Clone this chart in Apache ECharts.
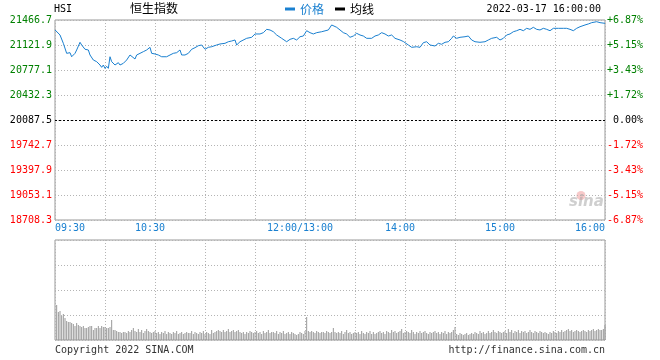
<!DOCTYPE html>
<html><head><meta charset="utf-8">
<script src="https://cdn.jsdelivr.net/npm/echarts@6/dist/echarts.min.js"></script>
<style>html,body{margin:0;padding:0;background:#fff}#c{width:660px;height:360px}</style>
</head><body><div id="c"></div>
<script>
const symbolText = 'HSI';
const indexName = '恒生指数';
const dateText = '2022-03-17 16:00:00';
const legendNames = ['价格', '均线'];
const prevClose = 20087.5;
const stepTenths = 3448; // 344.8 points per grid step, in tenths
const timeLabels = {0:'09:30', 60:'10:30', 150:'12:00/13:00', 210:'14:00', 270:'15:00', 330:'16:00'};
const footerLeft = 'Copyright 2022 SINA.COM';
const footerRight = 'http://finance.sina.com.cn';

// [minutes since 09:30 (lunch removed), price]
const pricePoints = [
[0,21330],[1,21342],[3,21260],[5,21145],[7,21007],[8,20984],[9,21016],[10,20960],[12,21007],[13,21053],
[15,21159],[16,21122],[18,21063],[20,21053],[21,20984],[23,20915],[25,20892],[26,20869],[27,20846],[28,20814],
[29,20846],[30,20800],[31,20828],[32,20800],[33,20960],[34,20892],[35,20915],[36,20846],[38,20878],[39,20846],
[41,20869],[43,20915],[45,20984],[46,20960],[48,20929],[49,20984],[51,21007],[53,21030],[55,21053],[56,21063],
[57,21090],[58,21007],[60,20998],[62,20984],[64,20960],[65,20938],[67,20960],[69,20984],[71,21007],[73,21016],
[75,21053],[76,20984],[78,20984],[80,21007],[82,21063],[84,21085],[86,21112],[88,21122],[89,21098],[90,21063],
[92,21090],[94,21098],[97,21122],[99,21136],[102,21145],[104,21167],[106,21177],[108,21191],[109,21122],[111,21167],
[112,21177],[115,21214],[118,21228],[120,21274],[123,21274],[125,21292],[127,21338],[129,21329],[131,21305],[133,21260],
[136,21214],[139,21167],[141,21200],[143,21214],[145,21191],[147,21236],[149,21246],[151,21319],[153,21292],[155,21274],
[157,21292],[160,21305],[164,21329],[166,21398],[167,21374],[169,21366],[171,21329],[173,21292],[175,21274],[177,21228],
[179,21246],[181,21283],[183,21260],[185,21246],[187,21214],[190,21214],[192,21246],[194,21260],[196,21292],[198,21274],
[200,21246],[202,21260],[204,21214],[207,21191],[209,21170],[212,21122],[214,21090],[217,21098],[219,21090],[221,21154],
[223,21167],[225,21122],[228,21108],[230,21145],[232,21132],[234,21159],[236,21167],[238,21214],[239,21246],[241,21214],
[243,21228],[246,21236],[248,21246],[250,21191],[252,21167],[255,21159],[258,21167],[260,21191],[262,21214],[265,21228],
[267,21191],[269,21214],[271,21260],[273,21274],[275,21305],[277,21319],[279,21338],[281,21319],[283,21352],[285,21338],
[287,21366],[289,21338],[291,21329],[293,21352],[295,21338],[297,21319],[299,21352],[302,21352],[305,21352],[307,21352],
[309,21338],[311,21319],[313,21352],[315,21374],[318,21398],[320,21412],[322,21430],[325,21443],[327,21430],[328,21457],
[330,21421]
];

// per-minute volume (relative units, 100 = panel top), minute 1..330
const volumeValues = [
35,28,29,24,26,22,19,18,18,17,
16,14,17,15,14,13,14,12,12,13,
14,14,10,12,12,14,12,14,13,13,
12,12,13,20,10,10,9,8,8,7,
8,8,7,9,8,10,12,9,8,11,
8,10,7,9,11,9,8,7,8,9,
7,8,6,8,7,9,6,8,7,6,
8,7,9,6,7,8,6,7,8,7,
7,9,6,8,7,6,8,7,9,6,
8,7,6,10,7,8,9,10,9,8,
10,8,9,11,8,9,10,8,9,10,
8,7,8,6,8,7,9,8,7,8,
9,7,8,6,9,7,8,10,7,8,
8,7,9,6,8,7,9,6,7,8,
6,8,7,6,5,6,8,7,6,9,
23,9,8,9,8,7,9,8,7,8,
8,7,9,8,7,8,12,8,7,8,
7,9,6,8,10,7,8,6,7,8,
7,8,6,9,7,6,8,7,9,6,
8,6,7,8,9,7,8,6,9,8,
7,10,8,9,7,8,9,11,7,8,
9,8,7,10,8,6,8,7,9,7,
8,9,7,6,8,7,8,9,7,8,
6,8,7,9,6,8,7,8,10,13,
6,5,7,6,5,6,7,5,6,7,
6,8,7,6,9,7,8,6,7,9,
7,8,10,8,7,9,8,7,8,9,
7,11,8,10,7,9,8,10,7,9,
8,9,7,8,10,8,7,9,8,7,
9,8,7,8,7,6,8,7,9,8,
7,9,8,10,8,9,10,11,9,10,
8,9,10,9,8,9,10,9,8,10,
9,10,11,9,10,11,10,10,11,15
];

const MONO = '"DejaVu Sans Mono", "Liberation Mono", monospace';
const BLUE = '#1a80d0';
const gridLine = {show: true, lineStyle: {color: '#b4b4b4', type: [1, 2], width: 1}};

const chart = echarts.init(document.getElementById('c'), null, {renderer: 'canvas'});
const priceData = pricePoints.map(p => [p[0], Math.round((p[1] - prevClose) * 10)]);
const volData = volumeValues.map((v, i) => [i + 1, v]);
const labelColor = v => { v = parseFloat(v); return v > 0 ? '#008000' : (v < 0 ? '#ff0000' : '#000'); };

chart.setOption({
  animation: false,
  backgroundColor: '#fff',
  textStyle: {fontFamily: MONO},
  legend: {
    left: 285, top: 3, padding: 0, itemWidth: 10, itemHeight: 3, itemGap: 11, icon: 'rect',
    textStyle: {fontSize: 12, fontFamily: '"Noto Sans CJK SC", sans-serif'},
    data: [{name: legendNames[0], textStyle: {color: BLUE}}, {name: legendNames[1], textStyle: {color: '#000'}}]
  },
  grid: [
    {left: 55, top: 20, width: 550, height: 200, show: true, borderColor: '#999', borderWidth: 1},
    {left: 55, top: 240, width: 550, height: 100, show: true, borderColor: '#999', borderWidth: 1}
  ],
  xAxis: [
    {type: 'value', gridIndex: 0, min: 0, max: 330, interval: 30,
     axisLine: {show: false}, axisTick: {show: false}, splitLine: gridLine,
     axisLabel: {show: true, margin: 3, fontSize: 10, fontFamily: MONO, color: BLUE,
       alignMinLabel: 'left', alignMaxLabel: 'right', showMinLabel: true, showMaxLabel: true,
       formatter: v => { const t = timeLabels[v]; if (!t) return ''; return (v === 0 || v === 330) ? t : '{m|' + t + '}'; },
       rich: {m: {fontSize: 10, fontFamily: MONO, color: BLUE, padding: [0, 10, 0, 0]}}}},
    {type: 'value', gridIndex: 1, min: 0, max: 330, interval: 30,
     axisLine: {show: false}, axisTick: {show: false}, axisLabel: {show: false}, splitLine: gridLine}
  ],
  yAxis: [
    {type: 'value', gridIndex: 0, min: -4 * stepTenths, max: 4 * stepTenths, interval: stepTenths,
     axisLine: {show: false}, axisTick: {show: false}, splitLine: gridLine,
     axisLabel: {margin: 3, fontSize: 10, fontFamily: MONO, color: labelColor,
       formatter: v => (prevClose + v / 10).toFixed(1)}},
    {type: 'value', gridIndex: 0, position: 'right', min: -4 * stepTenths, max: 4 * stepTenths, interval: stepTenths,
     axisLine: {show: false}, axisTick: {show: false}, splitLine: {show: false},
     axisLabel: {margin: 2, fontSize: 10, fontFamily: MONO, color: labelColor,
       formatter: v => { const p = v / 10 / prevClose * 100; return (p > 0.0001 ? '+' : (p < -0.0001 ? '-' : ' ')) + Math.abs(p).toFixed(2) + '%'; }}},
    {type: 'value', gridIndex: 1, min: 0, max: 100, interval: 25,
     axisLine: {show: false}, axisTick: {show: false}, axisLabel: {show: false}, splitLine: gridLine}
  ],
  series: [
    {name: legendNames[0], type: 'line', xAxisIndex: 0, yAxisIndex: 0, data: priceData, symbol: 'none',
     lineStyle: {color: BLUE, width: 1}, itemStyle: {color: BLUE}, z: 5,
     markLine: {silent: true, symbol: 'none', label: {show: false},
       lineStyle: {color: '#000', type: [2, 2], width: 1}, data: [{yAxis: 0}]}},
    {name: legendNames[1], type: 'line', xAxisIndex: 0, yAxisIndex: 0, data: [], symbol: 'none',
     lineStyle: {color: '#000', width: 1}, itemStyle: {color: '#000'}},
    {name: 'volume', type: 'bar', xAxisIndex: 1, yAxisIndex: 2, data: volData, barWidth: 1,
     itemStyle: {color: '#999'}, large: false}
  ],
  graphic: [
    {type: 'text', left: 54, top: 4, style: {text: symbolText, font: '10px ' + MONO, fill: '#000'}},
    {type: 'text', left: 130, top: 2, style: {text: indexName, font: '12px "Noto Sans CJK SC", sans-serif', fill: '#000'}},
    {type: 'text', right: 59, top: 4, style: {text: dateText, font: '10px ' + MONO, fill: '#000'}},
    {type: 'text', left: 55, top: 345, style: {text: footerLeft, font: '10px ' + MONO, fill: '#333'}},
    {type: 'text', right: 55, top: 345, style: {text: footerRight, font: '10px ' + MONO, fill: '#333'}},
    {type: 'group', left: 569, top: 191, children: [
      {type: 'circle', shape: {cx: 12, cy: 5, r: 4.5}, style: {fill: 'rgba(235,120,120,0.4)'}},
      {type: 'text', x: 0, y: 4, style: {text: 'sina', font: 'italic bold 15px "DejaVu Sans", sans-serif', fill: 'rgba(160,160,160,0.5)'}}
    ]}
  ]
});
</script>
</body></html>
